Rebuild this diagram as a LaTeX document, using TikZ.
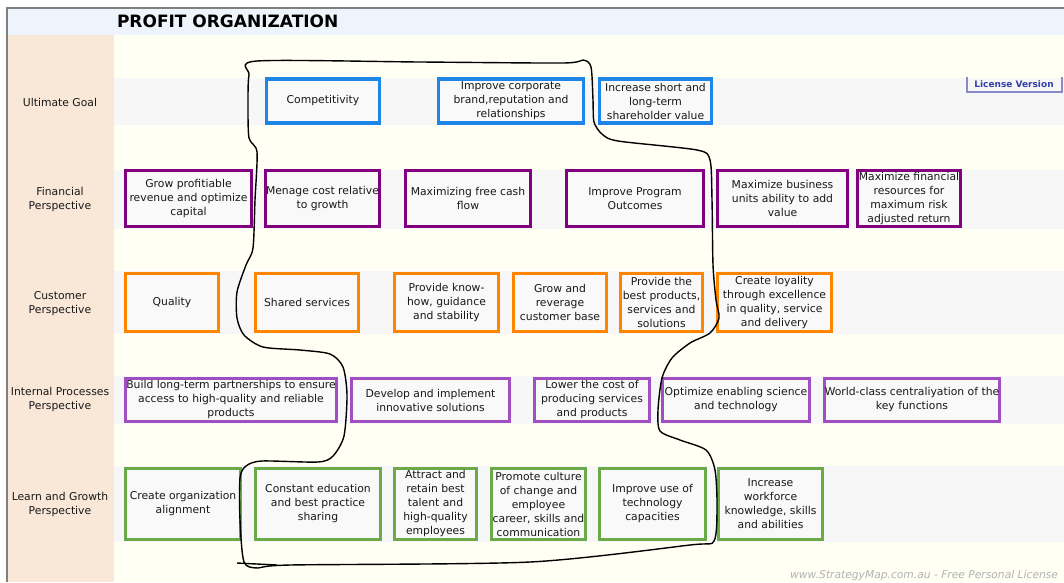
\documentclass[tikz,border=0pt]{standalone}
\usepackage{fontspec}
\setmainfont{DejaVu Sans}
\definecolor{cream}{HTML}{FFFFF3}
\definecolor{band}{HTML}{F7F7F7}
\definecolor{beige}{HTML}{F9E8D8}
\definecolor{titleband}{HTML}{EDF4FB}
\definecolor{boxfill}{HTML}{F9F9FA}
\definecolor{cblue}{HTML}{1E86E8}
\definecolor{cpurple}{HTML}{800080}
\definecolor{corange}{HTML}{FF8400}
\definecolor{cviolet}{HTML}{A04EC0}
\definecolor{cgreen}{HTML}{6AAA48}
\definecolor{licblue}{HTML}{3340A8}
\definecolor{licline}{HTML}{8A8AC8}
\begin{document}
\begin{tikzpicture}[x=1pt,y=-1pt,
  every node/.style={inner sep=0pt, outer sep=0pt},
  bx/.style={draw=#1, line width=3.5pt, fill=boxfill, align=center,
    font=\fontsize{10.8}{14}\selectfont, text=black!90},
  lbl/.style={align=center, font=\fontsize{10.8}{14}\selectfont, text=black!90},
  rowband/.style={fill=band, draw=none}]
\useasboundingbox (0,0) rectangle (1064,582);
% backgrounds
\fill[white] (0,0) rectangle (1064,582);
\fill[cream] (8,9) rectangle (1064,582);
\fill[titleband] (8,9) rectangle (1064,35);
\fill[beige] (8,35) rectangle (114,582);
\fill[rowband] (114,78) rectangle (1064,125);
\fill[rowband] (114,170) rectangle (1064,229);
\fill[rowband] (114,271) rectangle (1064,334);
\fill[rowband] (114,376) rectangle (1064,424);
\fill[rowband] (114,466) rectangle (1064,542);
\draw[line width=2pt, gray] (7,582) -- (7,8) -- (1064,8);
% title
\node[font=\fontsize{17}{18}\selectfont\bfseries, anchor=west] (title) at (117,21.5) {PROFIT ORGANIZATION};
% license
\node[font=\fontsize{9}{10}\selectfont\bfseries, text=licblue] (lic) at (1014,84.5) {License Version};
\draw[licline, line width=1.2pt] (967,77) -- (967,92) -- (1062,92) -- (1062,77);
% row labels
\node[lbl] (L1) at (60,102) {Ultimate Goal};
\node[lbl] (L2) at (60,200) {Financial\\Perspective};
\node[lbl] (L3) at (60,304) {Customer\\Perspective};
\node[lbl] (L4) at (60,400) {Internal Processes\\Perspective};
\node[lbl] (L5) at (60,505) {Learn and Growth\\Perspective};
% ultimate goal
\node[bx=cblue, minimum width=113, minimum height=44] (g1) at (323,101) {Competitivity};
\node[bx=cblue, minimum width=145, minimum height=44] (g2) at (511,101) {Improve corporate\\brand,reputation and\\relationships};
\node[bx=cblue, minimum width=112, minimum height=44] (g3) at (655.5,101) {Increase short and\\long-term\\shareholder value};
% financial
\node[bx=cpurple, minimum width=126, minimum height=56] (f1) at (188.5,198.5) {Grow profitiable\\revenue and optimize\\capital};
\node[bx=cpurple, minimum width=114, minimum height=56] (f2) at (322.5,198.5) {Menage cost relative\\to growth};
\node[bx=cpurple, minimum width=125, minimum height=56] (f3) at (468,198.5) {Maximizing free cash\\flow};
\node[bx=cpurple, minimum width=137, minimum height=56] (f4) at (635,198.5) {Improve Program\\Outcomes};
\node[bx=cpurple, minimum width=130, minimum height=56] (f5) at (782.5,198.5) {Maximize business\\units ability to add\\value};
\node[bx=cpurple, minimum width=103, minimum height=56] (f6) at (909,198.5) {Maximize financial\\resources for\\maximum risk\\adjusted return};
% customer
\node[bx=corange, minimum width=93, minimum height=58] (c1) at (172,302.5) {Quality};
\node[bx=corange, minimum width=103, minimum height=58] (c2) at (307,302.5) {Shared services};
\node[bx=corange, minimum width=104, minimum height=58] (c3) at (446.5,302.5) {Provide know-\\how, guidance\\and stability};
\node[bx=corange, minimum width=93, minimum height=58] (c4) at (560,302.5) {Grow and\\reverage\\customer base};
\node[bx=corange, minimum width=82, minimum height=58] (c5) at (661.5,302.5) {Provide the\\best products,\\services and\\solutions};
\node[bx=corange, minimum width=114, minimum height=58] (c6) at (774.5,302.5) {Create loyality\\through excellence\\in quality, service\\and delivery};
% internal
\node[bx=cviolet, minimum width=211, minimum height=43] (i1) at (231,400) {Build long-term partnerships to ensure\\access to high-quality and reliable\\products};
\node[bx=cviolet, minimum width=158, minimum height=43] (i2) at (430.5,400) {Develop and implement\\innovative solutions};
\node[bx=cviolet, minimum width=115, minimum height=43] (i3) at (592,400) {Lower the cost of\\producing services\\and products};
\node[bx=cviolet, minimum width=147, minimum height=43] (i4) at (736,400) {Optimize enabling science\\and technology};
\node[bx=cviolet, minimum width=175, minimum height=43] (i5) at (912,400) {World-class centraliyation of the\\key functions};
% learn and growth
\node[bx=cgreen, minimum width=115, minimum height=71] (l1) at (183,504) {Create organization\\alignment};
\node[bx=cgreen, minimum width=125, minimum height=71] (l2) at (318,504) {Constant education\\and best practice\\sharing};
\node[bx=cgreen, minimum width=82, minimum height=71] (l3) at (435.5,504) {Attract and\\retain best\\talent and\\high-quality\\employees};
\node[bx=cgreen, minimum width=94, minimum height=71] (l4) at (538.5,504) {Promote culture\\of change and\\employee\\career, skills and\\communication};
\node[bx=cgreen, minimum width=106, minimum height=71] (l5) at (652.5,504) {Improve use of\\technology\\capacities};
\node[bx=cgreen, minimum width=104, minimum height=71] (l6) at (770.5,504) {Increase\\workforce\\knowledge, skills\\and abilities};
% watermark
\node[font=\fontsize{10.7}{12}\selectfont\itshape, text=black!30, anchor=east] (wm) at (1058,576) {www.StrategyMap.com.au - Free Personal License};
% freehand loop
\draw[line width=1.4pt, black] plot[smooth cycle, tension=0.45] coordinates {
 (249,75) (257,61) (420,62) (563,63) (583,60) (591,67) (593,100) (594,122)
 (602,134) (618,141) (697,150) (710,160) (712,200) (713,265) (716,300) (719,318)
 (710,333) (690,343) (672,358) (662,378) (658,410) (660,431) (680,440) (706,450)
 (715,470) (717,505) (714,541) (690,545) (530,562) (290,565) (258,568) (244,562)
 (240,520) (240,478) (246,466) (262,461) (318,462) (333,456) (344,436) (347,395)
 (343,367) (330,354) (300,350) (263,347) (244,335) (237,318) (237,292) (246,265)
 (253,248) (255,200) (257,152) (249,138) (248,105)};
\draw[line width=1.4pt] (237,563) -- (277,565);
\end{tikzpicture}
\end{document}
